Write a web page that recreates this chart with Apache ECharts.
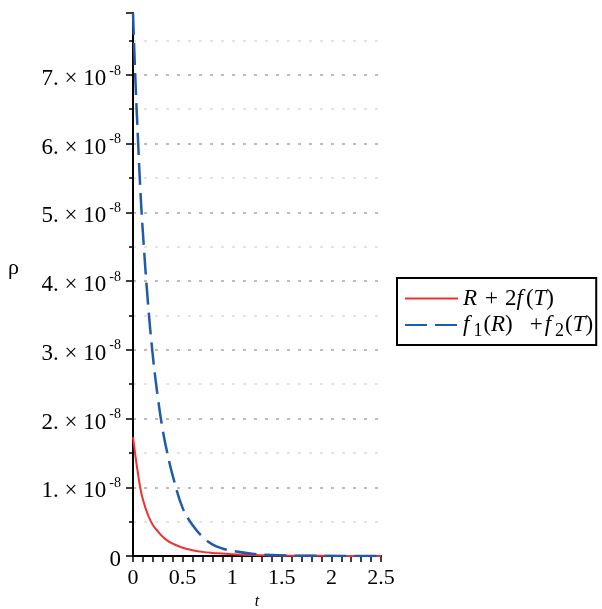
<!DOCTYPE html>
<html>
<head>
<meta charset="utf-8">
<title>rho vs t</title>
<script src="https://cdn.jsdelivr.net/npm/echarts@6/dist/echarts.min.js"></script>
<style>
  html, body { margin: 0; padding: 0; background: #fff; }
  #main { width: 602px; height: 609px; }
</style>
</head>
<body>
<div id="main"></div>
<script>
// t samples shared by both curves
var tValues = [0, 0.025, 0.05, 0.075, 0.1, 0.15, 0.2, 0.25, 0.3, 0.35, 0.4, 0.5, 0.6, 0.7, 0.8, 0.9, 1.0, 1.2, 1.4, 1.6, 1.8, 2.0, 2.25, 2.5];
// rho values, in units of 10^-8
var rhoRed  = [1.73, 1.45, 1.2, 0.98, 0.82, 0.6, 0.45, 0.36, 0.28, 0.22, 0.18, 0.12, 0.085, 0.06, 0.045, 0.035, 0.025, 0.014, 0.008, 0.005, 0.003, 0.002, 0.001, 0.0007];
var rhoBlue = [7.9, 6.9, 6.07, 5.3, 4.7, 3.7, 2.91, 2.31, 1.83, 1.47, 1.17, 0.7, 0.45, 0.28, 0.17, 0.11, 0.075, 0.033, 0.014, 0.006, 0.003, 0.001, 0.0005, 0.0002];
var seriesNames = ['R + 2f(T)', 'f1(R) + f2(T)'];
var xTicks = [0, 0.5, 1, 1.5, 2, 2.5];

function pairs(ys) {
  var out = [];
  for (var i = 0; i < tValues.length; i++) out.push([tValues[i], ys[i]]);
  return out;
}

var serif = 'Liberation Serif';
var myChart = echarts.init(document.getElementById('main'));

var option = {
  animation: false,
  backgroundColor: '#fff',
  grid: { left: 133, right: 221, top: 13, bottom: 53, outerBoundsMode: 'none' },
  graphic: [{
    type: 'text', left: 8, top: 257,
    style: { text: 'ρ', font: '22px "Liberation Serif"', fill: '#000' }
  }],
  legend: {
    orient: 'vertical',
    left: 397,
    top: 278,
    padding: [9, 3, 5, 7],
    itemGap: 0,
    itemWidth: 53,
    itemHeight: 14,
    borderColor: '#000',
    borderWidth: 2,
    itemStyle: { opacity: 0 },
    data: seriesNames,
    textStyle: {
      fontFamily: serif,
      fontSize: 23,
      color: '#000',
      rich: {
        i: { fontFamily: serif, fontSize: 23, fontStyle: 'italic', color: '#000', lineHeight: 24 },
        fi: { fontFamily: serif, fontSize: 23, fontStyle: 'italic', color: '#000', lineHeight: 24, padding: [0, 3, 0, 0] },
        n: { fontFamily: serif, fontSize: 23, color: '#000', lineHeight: 24 },
        op: { fontFamily: serif, fontSize: 23, color: '#000', lineHeight: 24, padding: [0, 7, 0, 8] },
        op2: { fontFamily: serif, fontSize: 23, color: '#000', lineHeight: 24, padding: [0, 2, 0, 17] },
        s: { fontFamily: serif, fontSize: 18, color: '#000', lineHeight: 18, padding: [12, 1, 0, 4] }
      }
    },
    formatter: function (name) {
      if (name === seriesNames[0]) return '{i|R}{op|+}{n|2}{fi|f}{n|(}{i|T}{n|)}';
      return '{i|f}{s|1}{n|(}{i|R}{n|)}{op2|+}{i|f}{s|2}{n|(}{i|T}{n|)}';
    }
  },
  xAxis: {
    type: 'value',
    min: 0,
    max: 2.5,
    interval: 0.5,
    name: 't',
    nameLocation: 'middle',
    nameGap: 37,
    nameTextStyle: { fontFamily: serif, fontStyle: 'italic', fontSize: 16, color: '#000' },
    axisLine: { onZero: false, lineStyle: { color: '#000', width: 2 } },
    axisTick: { length: 6, lineStyle: { color: '#000', width: 1.5 } },
    minorTick: { show: true, splitNumber: 5, length: 6, lineStyle: { color: '#000', width: 1.5 } },
    axisLabel: {
      fontFamily: serif, fontSize: 22, color: '#000', margin: 11,
      formatter: function (v) { return xTicks.indexOf(v) >= 0 ? String(v) : ''; }
    },
    splitLine: { show: false }
  },
  yAxis: {
    type: 'value',
    min: 0,
    max: 7.9,
    interval: 1,
    axisLine: { show: true, lineStyle: { color: '#000', width: 2 } },
    axisTick: { show: true, length: 7, lineStyle: { color: '#000', width: 1.5 } },
    minorTick: { show: true, splitNumber: 2, length: 4, lineStyle: { color: '#000', width: 1.5 } },
    axisLabel: {
      margin: 12,
      showMaxLabel: false,
      formatter: function (v) {
        if (v === 0) return '{b|0}';
        if (Math.abs(v - Math.round(v)) > 1e-9) return '';
        return '{b|' + Math.round(v) + '. × 10}{s|-8}';
      },
      rich: {
        b: { fontFamily: serif, fontSize: 23, color: '#000', lineHeight: 26, padding: [8, 0, 0, 0] },
        s: { fontFamily: serif, fontSize: 14, color: '#000', lineHeight: 14, padding: [0, 0, 8, 3] }
      }
    },
    splitLine: { show: true, showMaxLine: false, lineStyle: { color: '#a8a8a8', width: 1.5, type: [3, 8] } },
    minorSplitLine: { show: true, lineStyle: { color: '#dcdcdc', width: 1.5, type: [3, 8] } }
  },
  series: [
    {
      name: seriesNames[0],
      type: 'line',
      data: pairs(rhoRed),
      symbol: 'none',
      smooth: 0.4,
      clip: true,
      itemStyle: { color: '#f03232' },
      lineStyle: { color: '#f03232', width: 2 }
    },
    {
      name: seriesNames[1],
      type: 'line',
      data: pairs(rhoBlue),
      symbol: 'none',
      smooth: 0.4,
      clip: true,
      itemStyle: { color: '#1f5bab' },
      lineStyle: { color: '#1f5bab', width: 2.5, type: [22, 8] }
    }
  ]
};

myChart.setOption(option);
</script>
</body>
</html>
